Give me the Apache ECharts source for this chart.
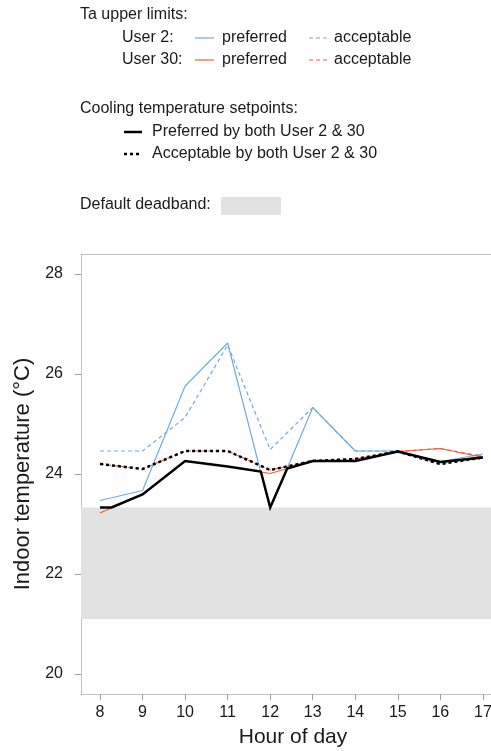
<!DOCTYPE html>
<html>
<head>
<meta charset="utf-8">
<script src="https://cdn.jsdelivr.net/npm/echarts@6/dist/echarts.min.js"></script>
<style>
html, body { margin: 0; padding: 0; background: #fff; }
#chart { width: 491px; height: 751px; }
</style>
</head>
<body>
<div id="chart"></div>
<script>
// hours of the day
const hours = [8, 9, 10, 11, 12, 13, 14, 15, 16, 17]
const yTicks = [20, 22, 24, 26, 28]

// Ta upper limits (°C)
const user2Preferred = [23.47, 23.67, 25.76, 26.62, 23.3, 25.33, 24.46, 24.46, 24.25, 24.4]
const user2Acceptable = [24.46, 24.46, 25.13, 26.58, 24.49, 25.33, 24.46, 24.46, 24.19, 24.38]
const user30Preferred = [23.22, 23.59, 24.26, 24.15, 24.01, 24.26, 24.26, 24.45, 24.51, 24.33]
const user30Acceptable = [24.2, 24.1, 24.46, 24.46, 24.08, 24.26, 24.3, 24.45, 24.51, 24.35]

// cooling setpoints (the preferred one has breaks where the limits cross)
const preferredHours = [8, 8.27, 9, 10, 11, 11.78, 12, 12.4, 13, 14, 15, 16, 17]
const preferredSetpoint = [23.33, 23.33, 23.59, 24.26, 24.15, 24.05, 23.33, 24.11, 24.26, 24.26, 24.45, 24.24, 24.33]
const acceptableSetpoint = [24.2, 24.1, 24.46, 24.46, 24.08, 24.26, 24.3, 24.45, 24.2, 24.33]

// default deadband (°C)
const deadband = [21.1, 23.33]

const BLUE = '#74acd9'
const RED = '#f25c3f'
const TXT = '#1a1a1a'
const FRAME = '#c2c2c2'
const FONT = '"Liberation Sans", Arial, sans-serif'
const X_MIN = 7.553
const X_MAX = 17.19

const pair = (xs, ys) => xs.map((x, i) => [x, ys[i]])

const chart = echarts.init(document.getElementById('chart'))

// legend drawn by hand (it is a block of text in the original)
function txt(text, x, y) {
  return { type: 'text', x: x, y: y, style: { text: text, fill: TXT, font: '16px ' + FONT, verticalAlign: 'middle' } }
}
function seg(x1, x2, y, color, width, dash) {
  return {
    type: 'line',
    shape: { x1: x1, y1: y, x2: x2, y2: y },
    style: { stroke: color, lineWidth: width, lineDash: dash || null }
  }
}

const legendItems = [
  txt('Ta upper limits:', 80, 15),
  txt('User 2:', 122, 38),
  seg(195, 214, 38, BLUE, 1.2),
  txt('preferred', 222, 38),
  seg(309, 328, 38, BLUE, 1.2, [4, 3]),
  txt('acceptable', 334, 38),
  txt('User 30:', 122, 60),
  seg(195, 214, 60, RED, 1.2),
  txt('preferred', 222, 60),
  seg(309, 328, 60, RED, 1.2, [4, 3]),
  txt('acceptable', 334, 60),
  txt('Cooling temperature setpoints:', 80, 109),
  seg(124, 142, 132, '#000', 2.5),
  txt('Preferred by both User 2 & 30', 152, 132),
  seg(124, 142, 154, '#000', 2.5, [3, 3]),
  txt('Acceptable by both User 2 & 30', 152, 154),
  txt('Default deadband:', 80, 205),
  { type: 'rect', shape: { x: 221, y: 197, width: 60, height: 18 }, style: { fill: '#e2e2e2' } }
]

const option = {
  animation: false,
  backgroundColor: '#fff',
  grid: {
    left: 81,
    top: 254,
    right: 0,
    bottom: 57,
    show: false,
    outerBoundsMode: 'none'
  },
  xAxis: [
    {
      type: 'value',
      min: X_MIN,
      max: X_MAX,
      name: 'Hour of day',
      nameLocation: 'middle',
      nameGap: 33,
      nameTextStyle: { fontSize: 21, color: TXT, fontFamily: FONT, padding: [0, 0, 0, 14] },
      axisLine: { show: true, lineStyle: { color: FRAME, width: 1 } },
      axisTick: { show: true, length: 6, customValues: hours, lineStyle: { color: '#a0a0a0' } },
      axisLabel: { customValues: hours, fontSize: 16, color: TXT, fontFamily: FONT, margin: 11 },
      splitLine: { show: false }
    },
    {
      // top frame line only
      type: 'value',
      position: 'top',
      min: X_MIN,
      max: X_MAX,
      axisLine: { show: true, lineStyle: { color: FRAME, width: 1 } },
      axisTick: { show: false },
      axisLabel: { show: false },
      splitLine: { show: false }
    }
  ],
  yAxis: {
    type: 'value',
    min: 19.6,
    max: 28.4,
    name: 'Indoor temperature (°C)',
    nameLocation: 'middle',
    nameGap: 41,
    nameTextStyle: { fontSize: 22, color: TXT, fontFamily: FONT },
    axisLine: { show: true, lineStyle: { color: FRAME, width: 1 } },
    axisTick: { show: true, length: 6, customValues: yTicks, lineStyle: { color: '#a0a0a0' } },
    axisLabel: { customValues: yTicks, fontSize: 16, color: TXT, fontFamily: FONT, margin: 18 },
    splitLine: { show: false }
  },
  graphic: legendItems,
  series: [
    {
      name: 'deadband',
      type: 'line',
      data: [],
      silent: true,
      markArea: {
        silent: true,
        itemStyle: { color: '#e2e2e2' },
        data: [[{ yAxis: deadband[0] }, { yAxis: deadband[1] }]]
      }
    },
    {
      name: 'User 2 preferred',
      type: 'line',
      data: pair(hours, user2Preferred),
      showSymbol: false,
      lineStyle: { color: BLUE, width: 1.2 }
    },
    {
      name: 'User 2 acceptable',
      type: 'line',
      data: pair(hours, user2Acceptable),
      showSymbol: false,
      lineStyle: { color: BLUE, width: 1.2, type: [4, 3] }
    },
    {
      name: 'User 30 preferred',
      type: 'line',
      data: pair(hours, user30Preferred),
      showSymbol: false,
      lineStyle: { color: RED, width: 1.2 }
    },
    {
      name: 'User 30 acceptable',
      type: 'line',
      data: pair(hours, user30Acceptable),
      showSymbol: false,
      lineStyle: { color: RED, width: 1.2, type: [4, 3] }
    },
    {
      name: 'Preferred setpoint',
      type: 'line',
      data: pair(preferredHours, preferredSetpoint),
      showSymbol: false,
      lineStyle: { color: '#000', width: 2.5, join: 'miter' }
    },
    {
      name: 'Acceptable setpoint',
      type: 'line',
      data: pair(hours, acceptableSetpoint),
      showSymbol: false,
      lineStyle: { color: '#000', width: 2.5, type: [3, 3] }
    }
  ]
}

chart.setOption(option)
</script>
</body>
</html>
